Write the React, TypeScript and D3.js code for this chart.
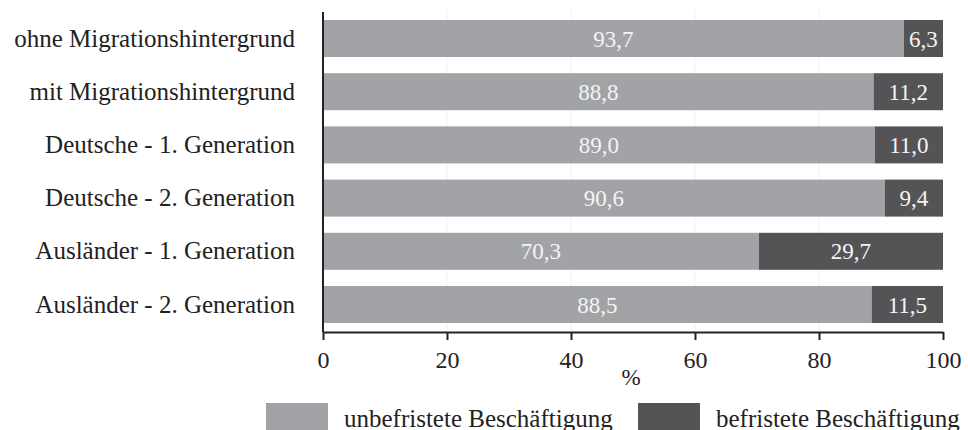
import { useEffect, useRef } from 'react';
import * as d3 from 'd3';

const categories = [
  'ohne Migrationshintergrund',
  'mit Migrationshintergrund',
  'Deutsche - 1. Generation',
  'Deutsche - 2. Generation',
  'Ausländer - 1. Generation',
  'Ausländer - 2. Generation',
];
const unbefristet = [93.7, 88.8, 89.0, 90.6, 70.3, 88.5];
const befristet = [6.3, 11.2, 11.0, 9.4, 29.7, 11.5];
const xTicks = [0, 20, 40, 60, 80, 100];
const seriesNames = ['unbefristete Beschäftigung', 'befristete Beschäftigung'];

const LIGHT = '#a2a3a6';
const DARK = '#545456';
const FONT = 'Liberation Serif, DejaVu Serif, serif';

const App = () => {
  const ref = useRef<SVGSVGElement>(null);

  useEffect(() => {
    if (!ref.current) return;
    const svg = d3.select(ref.current);
    svg.selectAll('*').remove();

    const W = 968;
    const H = 430;
    const left = 323;
    const right = 943;
    const top = 20;
    const step = 53.2;
    const barH = 37;
    const axisY = 332;

    const x = d3.scaleLinear().domain([0, 100]).range([left, right]);
    const pad = (step - barH) / step;
    const y = d3.scaleBand()
      .domain(categories)
      .range([top - (step - barH) / 2, top - (step - barH) / 2 + step * categories.length])
      .paddingInner(pad)
      .paddingOuter(pad / 2);

    svg.attr('width', W).attr('height', H).attr('font-family', FONT);

    // faint vertical gridlines
    svg.append('g')
      .selectAll('line')
      .data(xTicks.slice(1, -1))
      .enter()
      .append('line')
      .attr('x1', d => x(d))
      .attr('x2', d => x(d))
      .attr('y1', 10)
      .attr('y2', axisY)
      .attr('stroke', '#f0f0f0')
      .attr('stroke-width', 1);

    const rows = svg.append('g')
      .selectAll('g')
      .data(categories)
      .enter()
      .append('g');

    // light segment
    rows.append('rect')
      .attr('x', x(0))
      .attr('y', d => y(d)!)
      .attr('width', (d, i) => x(unbefristet[i]) - x(0))
      .attr('height', y.bandwidth())
      .attr('fill', LIGHT);

    // dark segment
    rows.append('rect')
      .attr('x', (d, i) => x(unbefristet[i]))
      .attr('y', d => y(d)!)
      .attr('width', (d, i) => x(unbefristet[i] + befristet[i]) - x(unbefristet[i]))
      .attr('height', y.bandwidth())
      .attr('fill', DARK);

    const fmt = (v: number) => v.toFixed(1).replace('.', ',');

    rows.append('text')
      .attr('x', (d, i) => x(unbefristet[i] / 2))
      .attr('y', d => y(d)! + y.bandwidth() / 2 + 8)
      .attr('text-anchor', 'middle')
      .attr('font-family', FONT)
      .style('font-size', '23px')
      .style('fill', '#f4f4f4')
      .text((d, i) => fmt(unbefristet[i]));

    rows.append('text')
      .attr('x', (d, i) => x(unbefristet[i] + befristet[i] / 2))
      .attr('y', d => y(d)! + y.bandwidth() / 2 + 8)
      .attr('text-anchor', 'middle')
      .attr('font-family', FONT)
      .style('font-size', '23px')
      .style('fill', '#f4f4f4')
      .text((d, i) => fmt(befristet[i]));

    // category labels
    rows.append('text')
      .attr('x', 295)
      .attr('y', d => y(d)! + y.bandwidth() / 2 + 8)
      .attr('text-anchor', 'end')
      .attr('font-family', FONT)
      .style('font-size', '25px')
      .style('fill', '#222')
      .text(d => d);

    // y axis line
    svg.append('line')
      .attr('x1', left)
      .attr('x2', left)
      .attr('y1', 12)
      .attr('y2', axisY)
      .attr('stroke', '#222')
      .attr('stroke-width', 2);

    // x axis
    const xAxis = svg.append('g')
      .attr('transform', `translate(0,${axisY})`)
      .call(d3.axisBottom(x).tickValues(xTicks).tickSize(8).tickSizeOuter(0).tickPadding(11));
    xAxis.attr('font-family', FONT);
    xAxis.select('.domain').attr('stroke', '#222').attr('stroke-width', 2);
    xAxis.selectAll('.tick line').attr('stroke', '#222').attr('stroke-width', 2);
    xAxis.selectAll('text')
      .attr('font-family', FONT)
      .style('font-size', '24px')
      .style('fill', '#222');

    svg.append('text')
      .attr('x', 631)
      .attr('y', 385)
      .attr('text-anchor', 'middle')
      .attr('font-family', FONT)
      .style('font-size', '23px')
      .style('fill', '#222')
      .text('%');

    // legend
    const legendItems = [
      { color: LIGHT, label: seriesNames[0], rx: 266, tx: 344 },
      { color: DARK, label: seriesNames[1], rx: 638, tx: 716 },
    ];
    legendItems.forEach(item => {
      svg.append('rect')
        .attr('x', item.rx)
        .attr('y', 403)
        .attr('width', 62)
        .attr('height', 30)
        .attr('fill', item.color);
      svg.append('text')
        .attr('x', item.tx)
        .attr('y', 427)
        .attr('font-family', FONT)
        .style('font-size', '25px')
        .style('fill', '#222')
        .text(item.label);
    });
  }, []);

  return <svg ref={ref} style={{ position: 'absolute', left: 0, top: 0 }} />;
};

export default App;
